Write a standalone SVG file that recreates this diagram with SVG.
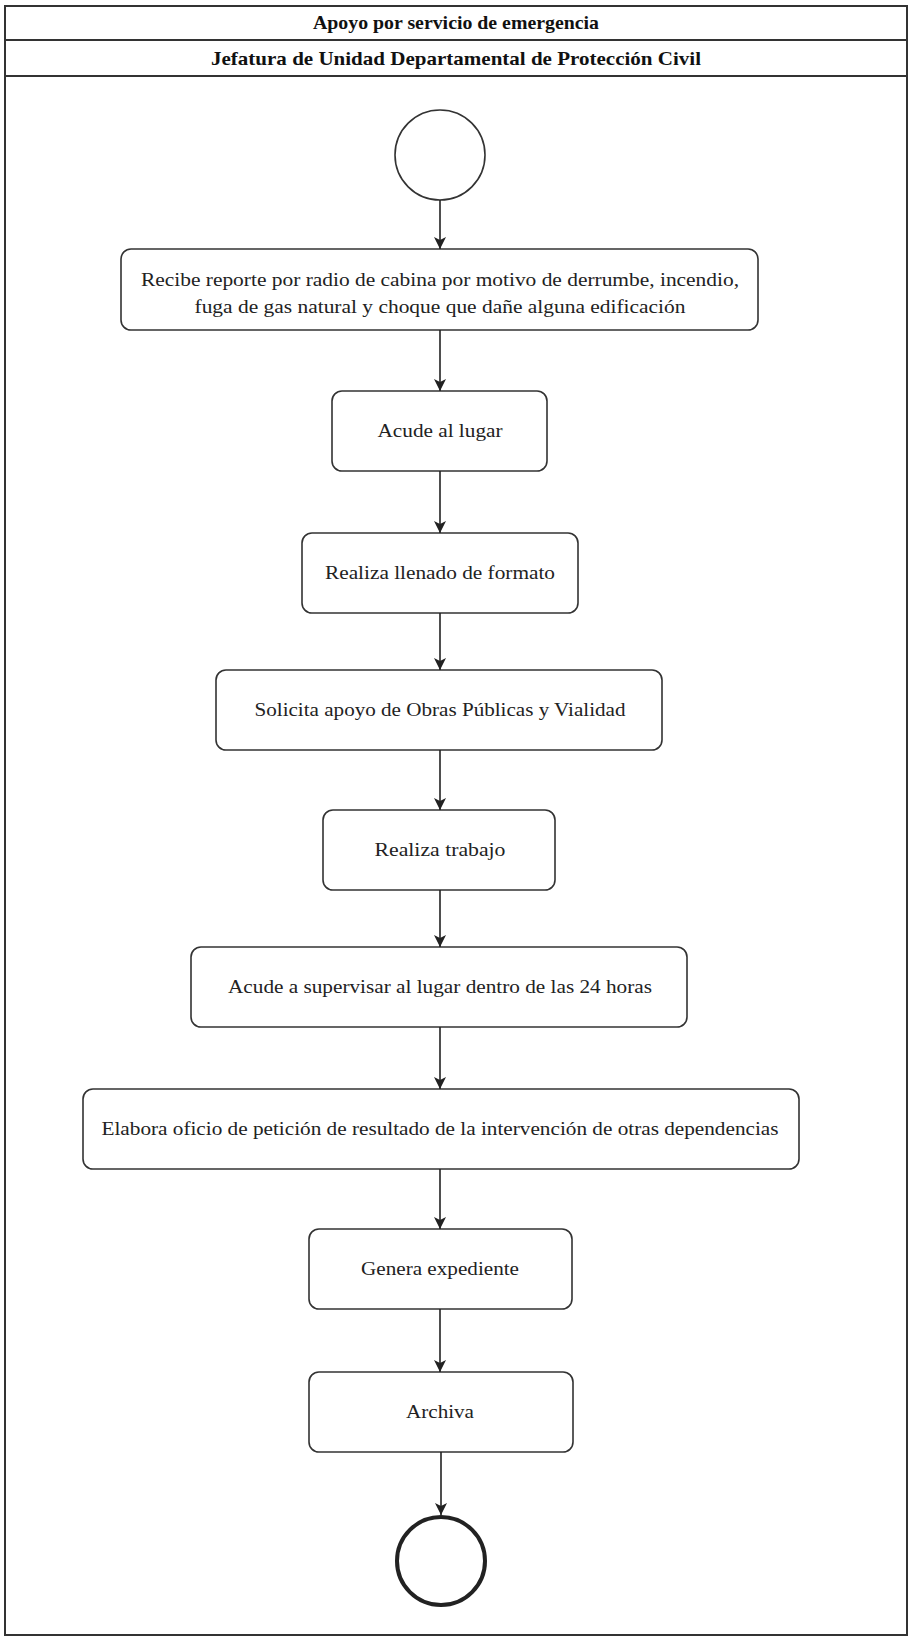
<svg xmlns="http://www.w3.org/2000/svg" width="910" height="1638" viewBox="0 0 910 1638">
<style>
.frame{fill:#fff;stroke:#333;stroke-width:2}
.node rect{fill:#fff;stroke:#333;stroke-width:1.6}
.t{font-family:"Liberation Serif","Times New Roman",serif;font-size:19px;fill:#222;text-anchor:middle}
.h{font-family:"Liberation Serif","Times New Roman",serif;font-size:19px;font-weight:bold;fill:#111;text-anchor:middle}
.conn line{stroke:#222;stroke-width:1.6;marker-end:url(#arr)}
</style>
<defs>
<marker id="arr" markerWidth="14" markerHeight="14" refX="12" refY="6" orient="auto" markerUnits="userSpaceOnUse">
<path d="M0,0 L12,6 L0,12 L3,6 z" fill="#222"/>
</marker>
</defs>
<rect width="910" height="1638" fill="#fff"/>
<g id="frame">
<rect class="frame" x="5" y="6" width="902" height="1629"/>
<line x1="5" y1="40" x2="907" y2="40" stroke="#333" stroke-width="2"/>
<line x1="5" y1="76" x2="907" y2="76" stroke="#333" stroke-width="2"/>
<text class="h" x="456" y="29" textLength="286" lengthAdjust="spacingAndGlyphs">Apoyo por servicio de emergencia</text>
<text class="h" x="456" y="65" textLength="490" lengthAdjust="spacingAndGlyphs">Jefatura de Unidad Departamental de Protección Civil</text>
</g>
<g id="start">
<circle cx="440" cy="155" r="45" fill="#fff" stroke="#333" stroke-width="1.6"/>
</g>
<g id="n1" class="node">
<rect x="121" y="249" width="637" height="81" rx="10"/>
<text class="t" x="440" y="286" textLength="598" lengthAdjust="spacingAndGlyphs">Recibe reporte por radio de cabina por motivo de derrumbe, incendio,</text>
<text class="t" x="440" y="313" textLength="491" lengthAdjust="spacingAndGlyphs">fuga de gas natural y choque que dañe alguna edificación</text>
</g>
<g id="n2" class="node">
<rect x="332" y="391" width="215" height="80" rx="10"/>
<text class="t" x="440" y="437" textLength="125" lengthAdjust="spacingAndGlyphs">Acude al lugar</text>
</g>
<g id="n3" class="node">
<rect x="302" y="533" width="276" height="80" rx="10"/>
<text class="t" x="440" y="579" textLength="230" lengthAdjust="spacingAndGlyphs">Realiza llenado de formato</text>
</g>
<g id="n4" class="node">
<rect x="216" y="670" width="446" height="80" rx="10"/>
<text class="t" x="440" y="716" textLength="371" lengthAdjust="spacingAndGlyphs">Solicita apoyo de Obras Públicas y Vialidad</text>
</g>
<g id="n5" class="node">
<rect x="323" y="810" width="232" height="80" rx="10"/>
<text class="t" x="440" y="856" textLength="131" lengthAdjust="spacingAndGlyphs">Realiza trabajo</text>
</g>
<g id="n6" class="node">
<rect x="191" y="947" width="496" height="80" rx="10"/>
<text class="t" x="440" y="993" textLength="424" lengthAdjust="spacingAndGlyphs">Acude a supervisar al lugar dentro de las 24 horas</text>
</g>
<g id="n7" class="node">
<rect x="83" y="1089" width="716" height="80" rx="10"/>
<text class="t" x="440" y="1135" textLength="677" lengthAdjust="spacingAndGlyphs">Elabora oficio de petición de resultado de la intervención de otras dependencias</text>
</g>
<g id="n8" class="node">
<rect x="309" y="1229" width="263" height="80" rx="10"/>
<text class="t" x="440" y="1275" textLength="158" lengthAdjust="spacingAndGlyphs">Genera expediente</text>
</g>
<g id="n9" class="node">
<rect x="309" y="1372" width="264" height="80" rx="10"/>
<text class="t" x="440" y="1418" textLength="68" lengthAdjust="spacingAndGlyphs">Archiva</text>
</g>
<g id="end">
<circle cx="441" cy="1561" r="44" fill="#fff" stroke="#222" stroke-width="4"/>
</g>
<g class="conn" id="connectors">
<line x1="440" y1="200" x2="440" y2="249"/>
<line x1="440" y1="330" x2="440" y2="391"/>
<line x1="440" y1="471" x2="440" y2="533"/>
<line x1="440" y1="613" x2="440" y2="670"/>
<line x1="440" y1="750" x2="440" y2="810"/>
<line x1="440" y1="890" x2="440" y2="947"/>
<line x1="440" y1="1027" x2="440" y2="1089"/>
<line x1="440" y1="1169" x2="440" y2="1229"/>
<line x1="440" y1="1309" x2="440" y2="1372"/>
<line x1="441" y1="1452" x2="441" y2="1515"/>
</g>
</svg>
